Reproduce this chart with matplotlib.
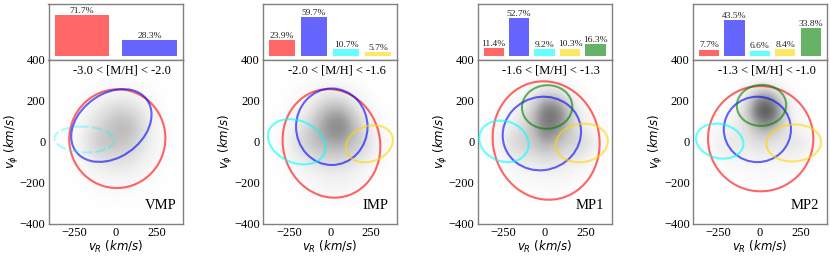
import numpy as np
import matplotlib
matplotlib.use("Agg")
import matplotlib.pyplot as plt
from matplotlib.patches import Ellipse

W, H = 831, 257
TIMES = "Liberation Serif"

metal_ranges = ["-3.0 < [M/H] < -2.0", "-2.0 < [M/H] < -1.6", "-1.6 < [M/H] < -1.3", "-1.3 < [M/H] < -1.0"]
panel_names = ["VMP", "IMP", "MP1", "MP2"]

# Bar fractions (%), one list per panel
vmp_frac = [71.7, 28.3]
imp_frac = [23.9, 59.7, 10.7, 5.7]
mp1_frac = [11.4, 52.7, 9.2, 10.3, 16.3]
mp2_frac = [7.7, 43.5, 6.6, 8.4, 33.8]

# Component ellipses: centre vR, centre vphi, half extent vR, half extent vphi, tilt correlation
vmp_red = (10, 15, 292, 240, 0.01)
vmp_blue = (-26, 79, 244, 177, 0.3)
vmp_cyan = (-191, 11, 181, 63, -0.08)
imp_red = (8, -8, 297, 264, -0.06)
imp_blue = (10, 73, 217, 186, 0.0)
imp_cyan = (-203, 0, 175, 110, -0.25)
imp_gold = (238, -10, 143, 90, 0.2)
mp1_red = (9, 6, 325, 288, -0.05)
mp1_blue = (-17, 40, 238, 179, 0.05)
mp1_cyan = (-247, 2, 150, 101, -0.15)
mp1_gold = (225, -6, 159, 94, 0.1)
mp1_green = (15, 169, 153, 106, 0.02)
mp2_red = (5, 15, 320, 256, 0.0)
mp2_blue = (-15, 60, 204, 159, 0.0)
mp2_cyan = (-244, 3, 144, 85, -0.15)
mp2_gold = (206, -6, 166, 90, 0.05)
mp2_green = (10, 177, 150, 100, 0.02)

# Estimated star density (darkness), on a regular 70 km/s grid
vmp_density = [
    [0, 0, 0, 0, 0, 0, 0, 0, 0, 0, 0],
    [0, 0, 0, .01, .02, .03, .03, .02, .01, 0, 0],
    [0, 0, .02, .05, .10, .14, .14, .10, .05, .02, 0],
    [0, .01, .05, .14, .22, .30, .30, .22, .10, .03, 0],
    [0, .02, .08, .20, .30, .38, .40, .30, .14, .05, .01],
    [.01, .04, .12, .28, .36, .36, .34, .25, .14, .05, .01],
    [0, .02, .08, .18, .25, .25, .24, .18, .10, .04, .01],
    [0, .01, .04, .08, .12, .14, .14, .10, .06, .02, 0],
    [0, 0, .01, .03, .05, .06, .06, .04, .02, .01, 0],
    [0, 0, 0, .01, .02, .02, .02, .01, .01, 0, 0],
    [0, 0, 0, 0, 0, 0, 0, 0, 0, 0, 0],
]
imp_density = [
    [0, 0, 0, 0, .01, .01, .01, 0, 0, 0, 0],
    [0, 0, .01, .02, .04, .06, .05, .03, .01, 0, 0],
    [0, .01, .04, .08, .16, .24, .22, .12, .05, .01, 0],
    [.01, .03, .08, .16, .34, .46, .46, .30, .12, .04, .01],
    [.01, .05, .14, .26, .42, .55, .58, .42, .20, .08, .02],
    [.01, .08, .22, .32, .40, .46, .46, .36, .26, .12, .03],
    [.01, .05, .14, .22, .28, .30, .30, .25, .18, .08, .02],
    [0, .02, .05, .10, .14, .16, .16, .13, .08, .03, .01],
    [0, .01, .02, .04, .07, .10, .10, .07, .03, .01, 0],
    [0, 0, 0, .01, .02, .03, .03, .02, .01, 0, 0],
    [0, 0, 0, 0, 0, 0, 0, 0, 0, 0, 0],
]
mp1_density = [
    [0, 0, 0, 0, 0, 0, 0, 0, 0, 0, 0],
    [0, 0, 0, .01, .03, .07, .07, .03, .01, 0, 0],
    [0, .01, .03, .07, .20, .40, .40, .20, .06, .02, 0],
    [.01, .02, .07, .16, .36, .64, .66, .42, .14, .05, .01],
    [.01, .05, .13, .22, .36, .60, .58, .36, .18, .08, .02],
    [.01, .10, .24, .30, .32, .48, .40, .30, .28, .20, .06],
    [0, .04, .14, .20, .22, .26, .24, .20, .18, .10, .02],
    [0, .01, .05, .08, .10, .12, .12, .10, .06, .03, .01],
    [0, 0, .01, .03, .04, .05, .05, .04, .02, .01, 0],
    [0, 0, 0, 0, .01, .01, .01, .01, 0, 0, 0],
    [0, 0, 0, 0, 0, 0, 0, 0, 0, 0, 0],
]
mp2_density = [
    [0, 0, 0, 0, 0, 0, 0, 0, 0, 0, 0],
    [0, 0, 0, 0, .03, .08, .08, .02, 0, 0, 0],
    [0, 0, .01, .04, .22, .58, .56, .20, .03, .01, 0],
    [0, .01, .04, .10, .35, .78, .80, .40, .08, .02, 0],
    [0, .03, .08, .13, .22, .45, .45, .24, .10, .05, .01],
    [.01, .08, .18, .18, .18, .24, .20, .18, .20, .16, .05],
    [0, .03, .10, .10, .10, .14, .12, .12, .12, .07, .01],
    [0, .01, .02, .03, .04, .05, .05, .04, .03, .01, 0],
    [0, 0, 0, .01, .01, .02, .02, .01, 0, 0, 0],
    [0, 0, 0, 0, 0, 0, 0, 0, 0, 0, 0],
    [0, 0, 0, 0, 0, 0, 0, 0, 0, 0, 0],
]

RED, BLUE, CYAN, GOLD, GREEN = "red", "blue", "cyan", "gold", "green"
panels = [
    (vmp_frac, vmp_density, [(vmp_red, RED), (vmp_blue, BLUE), (vmp_cyan, CYAN)]),
    (imp_frac, imp_density, [(imp_red, RED), (imp_blue, BLUE), (imp_cyan, CYAN), (imp_gold, GOLD)]),
    (mp1_frac, mp1_density, [(mp1_red, RED), (mp1_blue, BLUE), (mp1_cyan, CYAN), (mp1_gold, GOLD), (mp1_green, GREEN)]),
    (mp2_frac, mp2_density, [(mp2_red, RED), (mp2_blue, BLUE), (mp2_cyan, CYAN), (mp2_gold, GOLD), (mp2_green, GREEN)]),
]
bar_colors = [RED, BLUE, CYAN, GOLD, GREEN]
left_px = [48.5, 263, 477.5, 692.7]
AX_W = 134.3


def axes_px(x0, y0, w, h):
    return [x0 / W, 1 - (y0 + h) / H, w / W, h / H]


def ellipse_patch(params, color, faint):
    cx, cy, ax_, ay_, rho = params
    cov = np.array([[ax_ ** 2, rho * ax_ * ay_], [rho * ax_ * ay_, ay_ ** 2]])
    vals, vecs = np.linalg.eigh(cov)
    angle = np.degrees(np.arctan2(vecs[1, 1], vecs[0, 1]))
    return Ellipse((cx, cy), 2 * np.sqrt(vals[1]), 2 * np.sqrt(vals[0]), angle=angle,
                   fill=False, edgecolor=color, alpha=0.35 if faint else 0.6,
                   linewidth=1.5, linestyle=(0, (5, 1.5)) if faint else "-", zorder=3)


fig = plt.figure(figsize=(W / 100, H / 100), dpi=100)
for i, (frac, density, comps) in enumerate(panels):
    top = fig.add_axes(axes_px(left_px[i], 3.5, AX_W, 56))
    xs = np.arange(len(frac))
    top.bar(xs, frac, width=0.8, color=bar_colors[:len(frac)], alpha=0.6)
    for x, v in zip(xs, frac):
        top.text(x, v + 0.2, f"{v}%", ha="center", va="bottom", family=TIMES, fontsize=6.8, color="#222222")
    ymax = max(frac) + 20
    top.set_ylim(-ymax / 15, ymax)
    top.set_xticks([])
    top.set_yticks([])

    ax = fig.add_axes(axes_px(left_px[i], 59.5, AX_W, 164.5))
    ax.imshow(np.array(density), extent=(-385, 385, -385, 385), cmap="Greys", vmin=0, vmax=1,
              interpolation="bicubic", aspect="auto", zorder=1)
    for params, color in comps:
        ax.add_patch(ellipse_patch(params, color, i == 0 and color == CYAN))
    ax.set_xlim(-408, 408)
    ax.set_ylim(-400, 400)
    ax.set_xticks([-250, 0, 250])
    ax.set_yticks([-400, -200, 0, 200, 400])
    ax.tick_params(length=0, labelsize=9, pad=2.2, colors="black")
    for lab in ax.get_xticklabels() + ax.get_yticklabels():
        lab.set_family(TIMES)
    ax.set_xlabel(r"$v_R\ (km/s)$", fontsize=8.5, va="center")
    ax.set_ylabel(r"$v_\phi\ (km/s)$", fontsize=8.5, va="center")
    ax.xaxis.set_label_coords(0.5, -0.14)
    ax.yaxis.set_label_coords(-0.275, 0.5)
    ax.text(0.55, 0.936, metal_ranges[i], transform=ax.transAxes, ha="center", va="center",
            family=TIMES, fontsize=9)
    ax.text(0.835, 0.115, panel_names[i], transform=ax.transAxes, ha="center", va="center",
            family=TIMES, fontsize=10.5)
    for a in (top, ax):
        for s in a.spines.values():
            s.set_color("#808080")
            s.set_linewidth(1.0)

fig.savefig("out.png", dpi=100)
